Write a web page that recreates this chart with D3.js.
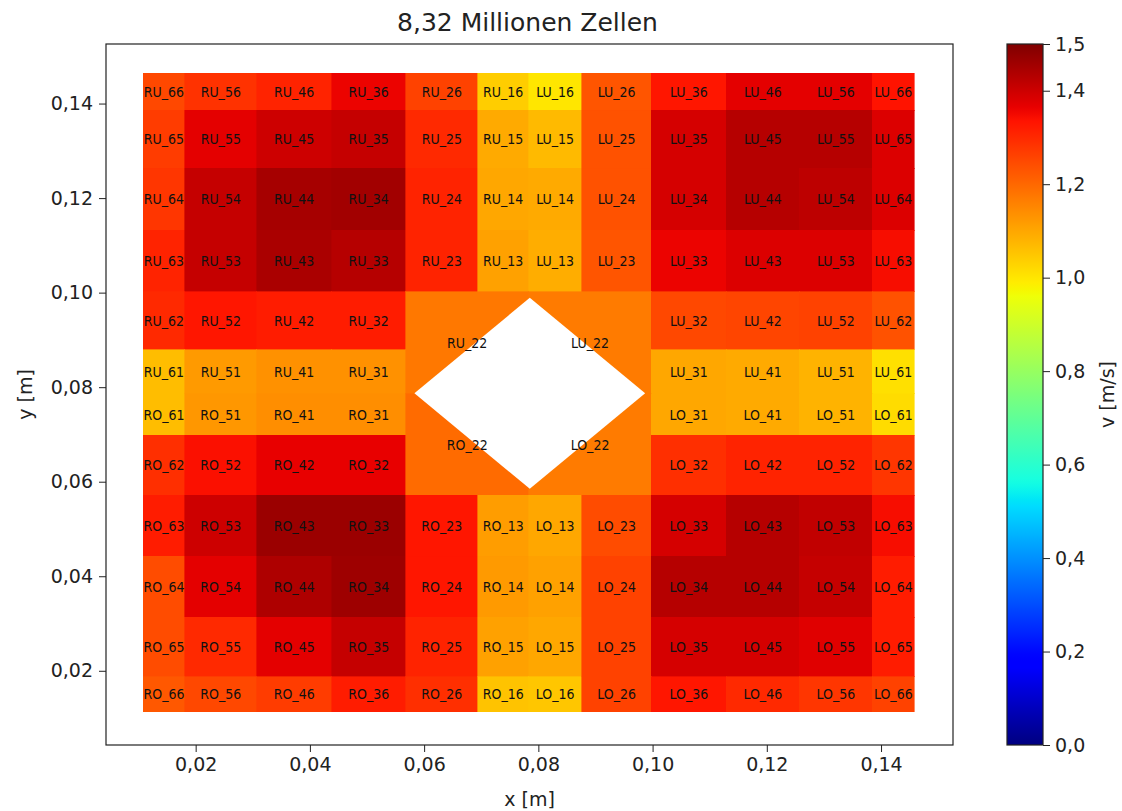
<html>
<head>
    <script src="https://d3js.org/d3.v7.min.js"></script>
    <style>
        body {
            margin: 0;
            background: #fff;
            font-family: "DejaVu Sans", sans-serif;
        }

        .axis text {
            font-size: 19px;
            fill: #222;
        }

        .axis path,
        .axis line {
            stroke: #222;
        }

        .cell-label {
            font-family: "DejaVu Sans Condensed", "DejaVu Sans", sans-serif;
            font-stretch: condensed;
            font-size: 14px;
            fill: #111;
        }
    </style>
</head>

<body>
    <svg width="1122" height="811"></svg>
    <script>
        // cell edges in metres (x: left to right, y: bottom to top)
        const xEdges = [0.0108, 0.0181, 0.0307, 0.0438, 0.0568, 0.0694, 0.0783, 0.0876, 0.0998, 0.1129, 0.1257, 0.1385, 0.1458];
        const yEdges = [0.0113, 0.0187, 0.0313, 0.0442, 0.0571, 0.0698, 0.0786, 0.0879, 0.1002, 0.1132, 0.1263, 0.1386, 0.1464];

        // velocity v [m/s], rows top to bottom (RU_x6 ... RU_x1, RO_x1 ... RO_x6)
        // columns left to right (R_6 ... R_1, L_1 ... L_6); the 2x2 centre blocks are the _22 cells
        const speed = [
            [1.25, 1.285, 1.31, 1.36, 1.26, 1.04, 1.00, 1.23, 1.33, 1.37, 1.37, 1.335],
            [1.27, 1.37, 1.40, 1.41, 1.30, 1.095, 1.07, 1.235, 1.39, 1.43, 1.43, 1.38],
            [1.28, 1.41, 1.45, 1.455, 1.31, 1.10, 1.095, 1.235, 1.39, 1.43, 1.42, 1.38],
            [1.31, 1.41, 1.445, 1.43, 1.31, 1.11, 1.09, 1.23, 1.36, 1.38, 1.38, 1.345],
            [1.30, 1.33, 1.32, 1.32, 1.175, 1.175, 1.17, 1.17, 1.25, 1.255, 1.26, 1.235],
            [1.065, 1.12, 1.135, 1.135, 1.175, 1.175, 1.17, 1.17, 1.10, 1.095, 1.08, 1.01],
            [1.065, 1.125, 1.14, 1.14, 1.195, 1.195, 1.17, 1.17, 1.10, 1.095, 1.08, 1.015],
            [1.29, 1.34, 1.365, 1.365, 1.195, 1.195, 1.17, 1.17, 1.29, 1.31, 1.31, 1.28],
            [1.32, 1.40, 1.465, 1.465, 1.33, 1.115, 1.10, 1.245, 1.39, 1.43, 1.415, 1.345],
            [1.245, 1.37, 1.44, 1.46, 1.33, 1.12, 1.11, 1.26, 1.43, 1.43, 1.41, 1.32],
            [1.245, 1.30, 1.37, 1.41, 1.31, 1.11, 1.10, 1.26, 1.39, 1.39, 1.375, 1.32],
            [1.225, 1.25, 1.27, 1.32, 1.29, 1.055, 1.05, 1.26, 1.33, 1.30, 1.28, 1.26]
        ];

        // diamond shaped hole in the middle
        const hole = { cx: 0.0785, cy: 0.0787, r: 0.0202 };

        const xTicks = [0.02, 0.04, 0.06, 0.08, 0.10, 0.12, 0.14];
        const yTicks = [0.02, 0.04, 0.06, 0.08, 0.10, 0.12, 0.14];
        const cbarTicks = [0.0, 0.2, 0.4, 0.6, 0.8, 1.0, 1.2, 1.4, 1.5];
        const vRange = [0, 1.5];

        const titleText = "8,32 Millionen Zellen";

        const plot = { left: 106, right: 953, top: 44, bottom: 745 };
        const cbar = { left: 1007, right: 1043 };

        const svg = d3.select("svg");

        const xScale = d3.scaleLinear().domain([0.0043, 0.1526]).range([plot.left, plot.right]);
        const yScale = d3.scaleLinear().domain([0.0043, 0.1526]).range([plot.bottom, plot.top]);

        // matplotlib "jet"
        const jetR = d3.scaleLinear([0, 0.35, 0.66, 0.89, 1], [0, 0, 1, 1, 0.5]).clamp(true);
        const jetG = d3.scaleLinear([0, 0.125, 0.375, 0.64, 0.91, 1], [0, 0, 1, 1, 0, 0]).clamp(true);
        const jetB = d3.scaleLinear([0, 0.11, 0.34, 0.65, 1], [0.5, 1, 1, 0, 0]).clamp(true);
        const jet = t => d3.rgb(255 * jetR(t), 255 * jetG(t), 255 * jetB(t)).formatHex();
        const color = v => jet((v - vRange[0]) / (vRange[1] - vRange[0]));

        const fmt = d => d3.format(".2f")(d).replace(".", ",");

        // build cells from the grid
        const cells = [];
        speed.forEach((row, r) => {
            row.forEach((v, c) => {
                const left = c < 6;
                const top = r < 6;
                const i = left ? 6 - c : c - 5;
                const j = top ? 6 - r : r - 5;
                cells.push({
                    x0: xEdges[c], x1: xEdges[c + 1],
                    y0: yEdges[11 - r], y1: yEdges[12 - r],
                    v: v,
                    name: (left ? "R" : "L") + (top ? "U" : "O") + "_" + i + j,
                    i: i, j: j
                });
            });
        });

        const field = svg.append("g");

        field.selectAll("rect")
            .data(cells)
            .join("rect")
            .attr("x", d => xScale(d.x0))
            .attr("y", d => yScale(d.y1))
            .attr("width", d => xScale(d.x1) - xScale(d.x0))
            .attr("height", d => yScale(d.y0) - yScale(d.y1))
            .attr("fill", d => color(d.v))
            .attr("stroke", d => color(d.v))
            .attr("stroke-width", 0.6)
            .attr("shape-rendering", "crispEdges");

        // hole
        field.append("polygon")
            .attr("points", [
                [hole.cx - hole.r, hole.cy], [hole.cx, hole.cy + hole.r],
                [hole.cx + hole.r, hole.cy], [hole.cx, hole.cy - hole.r]
            ].map(p => xScale(p[0]) + "," + yScale(p[1])).join(" "))
            .attr("fill", "#fff");

        // cell names; the four centre blocks get one name each
        const labelCells = cells.filter(d => d.i > 2 || d.j > 2 || (d.i === 2 && d.j === 2));
        const cx = xEdges[6], cy = yEdges[6];
        field.selectAll("text")
            .data(labelCells)
            .join("text")
            .attr("class", "cell-label")
            .attr("x", d => {
                if (d.i === 2 && d.j === 2) {
                    const outer = d.name[0] === "R" ? d.x0 : d.x1;
                    return xScale((outer + cx) / 2);
                }
                return xScale((d.x0 + d.x1) / 2);
            })
            .attr("y", d => {
                if (d.i === 2 && d.j === 2) {
                    const outer = d.name[1] === "U" ? d.y1 : d.y0;
                    return yScale((outer + cy) / 2);
                }
                return yScale((d.y0 + d.y1) / 2);
            })
            .attr("text-anchor", "middle")
            .attr("dy", "0.36em")
            .text(d => d.name);

        // frame
        svg.append("rect")
            .attr("x", plot.left)
            .attr("y", plot.top)
            .attr("width", plot.right - plot.left)
            .attr("height", plot.bottom - plot.top)
            .attr("fill", "none")
            .attr("stroke", "#222")
            .attr("stroke-width", 1.2);

        // axes
        const bottomAxis = d3.axisBottom(xScale).tickValues(xTicks).tickFormat(fmt).tickSize(7).tickPadding(6);
        const leftAxis = d3.axisLeft(yScale).tickValues(yTicks).tickFormat(fmt).tickSize(7).tickPadding(6);

        svg.append("g")
            .attr("class", "axis")
            .attr("transform", `translate(0, ${plot.bottom})`)
            .call(bottomAxis)
            .call(g => g.select(".domain").remove())
            .selectAll("text")
            .style("font-family", "DejaVu Sans");

        svg.append("g")
            .attr("class", "axis")
            .attr("transform", `translate(${plot.left}, 0)`)
            .call(leftAxis)
            .call(g => g.select(".domain").remove())
            .selectAll("text")
            .style("font-family", "DejaVu Sans");

        // title and axis labels
        svg.append("text")
            .attr("x", (plot.left + plot.right) / 2 - 2)
            .attr("y", 31)
            .attr("text-anchor", "middle")
            .style("font-size", "25px")
            .style("fill", "#222")
            .text(titleText);

        svg.append("text")
            .attr("x", (plot.left + plot.right) / 2)
            .attr("y", 806)
            .attr("text-anchor", "middle")
            .style("font-size", "19px")
            .style("fill", "#222")
            .text("x [m]");

        svg.append("text")
            .attr("transform", "rotate(-90)")
            .attr("x", -(plot.top + plot.bottom) / 2)
            .attr("y", 32)
            .attr("text-anchor", "middle")
            .style("font-size", "19px")
            .style("fill", "#222")
            .text("y [m]");

        // colour bar
        const cScale = d3.scaleLinear().domain(vRange).range([plot.bottom, plot.top]);

        const grad = svg.append("defs").append("linearGradient")
            .attr("id", "jet")
            .attr("x1", 0).attr("y1", 1)
            .attr("x2", 0).attr("y2", 0);
        grad.selectAll("stop")
            .data(d3.range(0, 1.0001, 1 / 100))
            .join("stop")
            .attr("offset", d => d)
            .attr("stop-color", d => jet(d));

        svg.append("rect")
            .attr("x", cbar.left)
            .attr("y", plot.top)
            .attr("width", cbar.right - cbar.left)
            .attr("height", plot.bottom - plot.top)
            .attr("fill", "url(#jet)")
            .attr("stroke", "#222")
            .attr("stroke-width", 1.2);

        svg.append("g")
            .attr("class", "axis")
            .attr("transform", `translate(${cbar.right}, 0)`)
            .call(d3.axisRight(cScale).tickValues(cbarTicks).tickFormat(d => d3.format(".1f")(d).replace(".", ",")).tickSize(7).tickPadding(5))
            .call(g => g.select(".domain").remove())
            .selectAll("text")
            .style("font-family", "DejaVu Sans");

        svg.append("text")
            .attr("transform", "rotate(-90)")
            .attr("x", -(plot.top + plot.bottom) / 2)
            .attr("y", 1114)
            .attr("text-anchor", "middle")
            .style("font-size", "19px")
            .style("fill", "#222")
            .text("v [m/s]");
    </script>
</body>

</html>
